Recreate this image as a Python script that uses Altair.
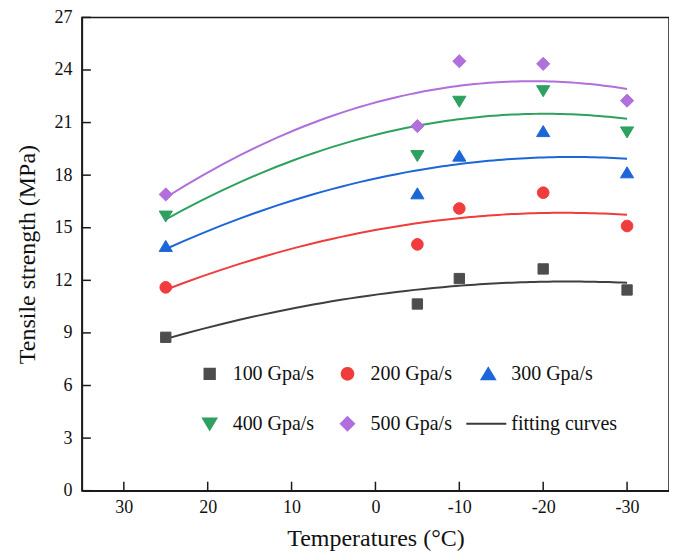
import math
import altair as alt
import pandas as pd

# ---- data ----
temps = [25, -5, -10, -20, -30]
s100 = [8.75, 10.65, 12.1, 12.65, 11.45]
s200 = [11.6, 14.05, 16.1, 17.0, 15.1]
s300 = [13.95, 16.95, 19.1, 20.5, 18.15]
s400 = [15.65, 19.1, 22.2, 22.8, 20.45]
s500 = [16.9, 20.8, 24.5, 24.35, 22.25]

series_names = ["100 Gpa/s", "200 Gpa/s", "300 Gpa/s", "400 Gpa/s", "500 Gpa/s"]
legend_names = series_names + ["fitting curves"]
colors = ["#4d4d4d", "#f03c3c", "#1c66d8", "#2ea05f", "#b06fdc", "#3a3a3a"]
line_colors = ["#3f3f3f", "#f03c3c", "#1c66d8", "#2ea05f", "#b06fdc"]

x_ticks = [30, 20, 10, 0, -10, -20, -30]
y_ticks = [0, 3, 6, 9, 12, 15, 18, 21, 24, 27]

# ---- marker shapes (small paths inside a large nominal symbol box) ----
def polygon_path(radius, n=20):
    pts = [(radius * math.cos(2 * math.pi * k / n), radius * math.sin(2 * math.pi * k / n)) for k in range(n)]
    return "M" + "L".join(f"{x:.3f},{y:.3f}" for x, y in pts) + "Z"

SYM_SIZE = 1936  # nominal symbol area -> half-width 22 px
shapes = [
    "M-0.235,-0.235H0.235V0.235H-0.235Z",          # square
    polygon_path(0.265),                           # circle
    "M0,-0.26L0.3,0.24L-0.3,0.24Z",                # triangle up
    "M0,0.26L0.3,-0.24L-0.3,-0.24Z",               # triangle down
    "M0,-0.3L0.3,0L0,0.3L-0.3,0Z",                 # diamond
    "M-1,0H0.82",                                  # line (fitting curves)
]

rows = []
for name, vals in zip(series_names, [s100, s200, s300, s400, s500]):
    for t, v in zip(temps, vals):
        rows.append({"T": t, "S": v, "series": name})
df = pd.DataFrame(rows)

W, H = 588, 474
FONT = "Liberation Serif"

xscale = alt.Scale(domain=[-35, 35], reverse=True, nice=False, zero=False)
yscale = alt.Scale(domain=[0, 27], nice=False, zero=False)
cscale = alt.Scale(domain=legend_names, range=colors)
lscale = alt.Scale(domain=series_names, range=line_colors)
shscale = alt.Scale(domain=legend_names, range=shapes)

leg = alt.Legend(
    title=None, orient="none", legendX=105, legendY=334, columns=3,
    direction="horizontal",
    labelFont=FONT, labelFontSize=20, labelColor="#111", labelOffset=0,
    symbolSize=SYM_SIZE, symbolStrokeWidth=2, columnPadding=10, rowPadding=17,
    padding=0, labelLimit=300,
)

xaxis = alt.Axis(values=x_ticks, ticks=False, labelFont=FONT, labelFontSize=18,
                 labelColor="#111", labelPadding=8, title="Temperatures (°C)",
                 titleFont=FONT, titleFontSize=24, titleFontWeight="normal",
                 titleColor="#111", titlePadding=10, grid=False,
                 domainColor="#1a1a1a", domainWidth=1.5,
                 labelExpr="'' + datum.value")
yaxis = alt.Axis(values=y_ticks, ticks=False, labelFont=FONT, labelFontSize=18,
                 labelColor="#111", labelPadding=10, title="Tensile strength (MPa)",
                 titleFont=FONT, titleFontSize=24, titleFontWeight="normal",
                 titleColor="#111", titlePadding=14, grid=False,
                 domainColor="#1a1a1a", domainWidth=1.5)

base = alt.Chart(df)

lines = base.transform_regression(
    "T", "S", groupby=["series"], method="poly", order=2, extent=[-30, 25]
).mark_line(strokeWidth=2, clip=True).encode(
    x=alt.X("T:Q", scale=xscale, axis=xaxis),
    y=alt.Y("S:Q", scale=yscale, axis=yaxis),
    color=alt.Color("series:N", scale=lscale, legend=None),
    detail="series:N",
)

points = base.mark_point(filled=True, size=SYM_SIZE, opacity=1, strokeWidth=1).encode(
    x=alt.X("T:Q", scale=xscale, axis=xaxis),
    y=alt.Y("S:Q", scale=yscale, axis=yaxis),
    fill=alt.Fill("series:N", scale=cscale, legend=leg),
    stroke=alt.Stroke("series:N", scale=cscale, legend=leg),
    shape=alt.Shape("series:N", scale=shscale, legend=leg),
)

xt = alt.Chart(pd.DataFrame({"T": x_ticks})).mark_rule(color="#1a1a1a", strokeWidth=1.5).encode(
    x=alt.X("T:Q", scale=xscale, axis=xaxis),
    y=alt.value(H), y2=alt.value(H - 9),
)
yt = alt.Chart(pd.DataFrame({"S": y_ticks})).mark_rule(color="#1a1a1a", strokeWidth=1.5).encode(
    y=alt.Y("S:Q", scale=yscale, axis=yaxis),
    x=alt.value(0), x2=alt.value(9),
)

chart = alt.layer(lines, points, xt, yt).properties(
    width=W, height=H,
    padding={"left": 8, "top": 0, "right": 0, "bottom": 0},
).configure_view(stroke="#1a1a1a", strokeWidth=1.5)

chart.save("out.html", embed_options={"renderer": "svg", "actions": False})
